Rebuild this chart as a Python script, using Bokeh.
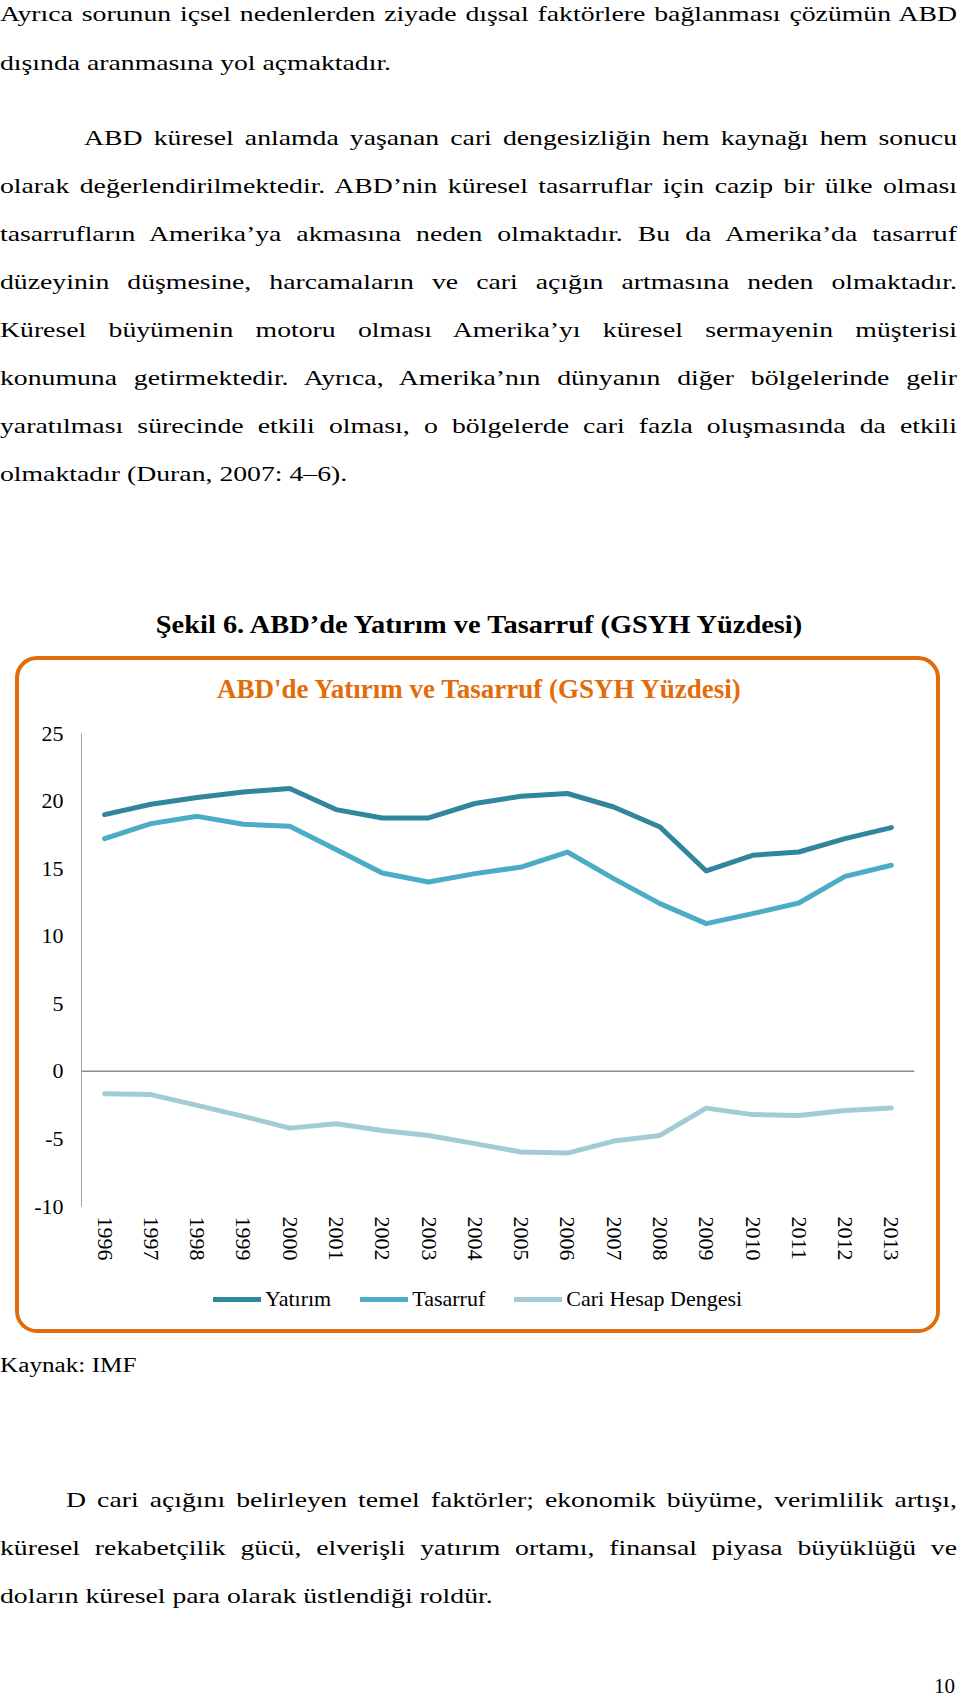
from bokeh.plotting import figure
from bokeh.models import (ColumnDataSource, FactorRange, Range1d, FixedTicker,
                          Span, Legend, Div)
from bokeh.layouts import column
from bokeh.embed import file_html
from bokeh.resources import INLINE

# ---------------- data ----------------
years = ["1996", "1997", "1998", "1999", "2000", "2001", "2002", "2003", "2004",
         "2005", "2006", "2007", "2008", "2009", "2010", "2011", "2012", "2013"]
yatirim = [19.0, 19.76, 20.26, 20.67, 20.93, 19.37, 18.75, 18.75, 19.82,
           20.36, 20.56, 19.56, 18.08, 14.83, 15.99, 16.23, 17.22, 18.04]
tasarruf = [17.22, 18.33, 18.87, 18.28, 18.13, 16.41, 14.68, 14.01, 14.63,
            15.12, 16.23, 14.26, 12.41, 10.93, 11.67, 12.46, 14.43, 15.25]
cari = [-1.65, -1.72, -2.52, -3.33, -4.2, -3.87, -4.37, -4.74, -5.35,
        -5.97, -6.05, -5.16, -4.74, -2.72, -3.2, -3.26, -2.89, -2.72]
series_names = ["Yatırım", "Tasarruf", "Cari Hesap Dengesi"]
y_ticks = [-10, -5, 0, 5, 10, 15, 20, 25]
y_tick_labels = ["-10", "-5", "0", "5", "10", "15", "20", "25"]

chart_title = "ABD'de Yatırım ve Tasarruf (GSYH Yüzdesi)"
figure_caption = "Şekil 6. ABD’de Yatırım ve Tasarruf (GSYH Yüzdesi)"
source_note = "Kaynak: IMF"
para1 = [
    ("Ayrıca sorunun içsel nedenlerden ziyade dışsal faktörlere bağlanması çözümün ABD", True, 0),
    ("dışında aranmasına yol açmaktadır.", False, 0),
]
para2 = [
    ("ABD küresel anlamda yaşanan cari dengesizliğin hem kaynağı hem sonucu", True, 84),
    ("olarak değerlendirilmektedir. ABD’nin küresel tasarruflar için cazip bir ülke olması", True, 0),
    ("tasarrufların Amerika’ya akmasına neden olmaktadır. Bu da Amerika’da tasarruf", True, 0),
    ("düzeyinin düşmesine, harcamaların ve cari açığın artmasına neden olmaktadır.", True, 0),
    ("Küresel büyümenin motoru olması Amerika’yı küresel sermayenin müşterisi", True, 0),
    ("konumuna getirmektedir. Ayrıca, Amerika’nın dünyanın diğer bölgelerinde gelir", True, 0),
    ("yaratılması sürecinde etkili olması, o bölgelerde cari fazla oluşmasında da etkili", True, 0),
    ("olmaktadır (Duran, 2007: 4–6).", False, 0),
]
para3 = [
    ("D cari açığını belirleyen temel faktörler; ekonomik büyüme, verimlilik artışı,", True, 66),
    ("küresel rekabetçilik gücü, elverişli yatırım ortamı, finansal piyasa büyüklüğü ve", True, 0),
    ("doların küresel para olarak üstlendiği roldür.", False, 0),
]
page_number = "10"

FONT = "'Liberation Serif', 'Times New Roman', serif"
SX = 1.26
ORANGE = "#E36C0A"


def text_line(text, top, left, justify, fs=22, sx=SX, right=957):
    w = (right - left) / sx
    ta = "justify" if justify else "left"
    return (f'<div style="position:absolute;top:{top:.1f}px;left:{left}px;width:{w:.1f}px;'
            f'font-size:{fs}px;line-height:{fs}px;text-align:{ta};'
            f'text-align-last:{ta};transform:scaleX({sx});transform-origin:0 0;">{text}</div>')


# ---------------- top text block (page y 0 .. 656) ----------------
asc22 = 18.4
parts = []
for (t, j, ind), b in zip(para1, [21, 70]):
    parts.append(text_line(t, b - asc22, ind, j))
for i, (t, j, ind) in enumerate(para2):
    b = 145 + 48.1 * i
    parts.append(text_line(t, b - asc22, ind, j))
cap_w = 800
parts.append(
    f'<div style="position:absolute;top:{633 - 20.9:.1f}px;left:{479 - cap_w / 2:.1f}px;'
    f'width:{cap_w}px;font-size:25px;line-height:25px;font-weight:bold;text-align:center;'
    f'transform:scaleX(1.136);transform-origin:50% 0;">{figure_caption}</div>')
top_html = (f'<div style="position:relative;width:960px;height:656px;font-family:{FONT};color:#000;">'
            + "".join(parts) + "</div>")
top_div = Div(text=top_html, width=960, height=656, margin=0)

# ---------------- chart box (outer page x 15..940, y 656..1333) ----------------
title_html = (f'<div style="position:relative;width:917px;height:50px;font-family:{FONT};">'
              f'<div style="position:absolute;top:{699 - 660 - 22.6:.1f}px;left:{217 - 19}px;'
              f'white-space:nowrap;font-size:27px;line-height:27px;font-weight:bold;'
              f'color:{ORANGE};">{chart_title}</div></div>')
title_div = Div(text=title_html, width=917, height=50, margin=0)

src = ColumnDataSource(dict(year=years, yat=yatirim, tas=tasarruf, cari=cari))

p = figure(x_range=FactorRange(*years, range_padding=0), y_range=Range1d(-10, 25),
           frame_width=833, frame_height=473, output_backend="svg", toolbar_location=None,
           min_border_left=62, min_border_right=22, min_border_top=23, min_border_bottom=66,
           margin=0)
p.background_fill_color = "white"
p.border_fill_color = "white"
p.outline_line_color = None
p.xgrid.visible = False
p.ygrid.visible = False

colors = ["#31859C", "#4BACC6", "#A3CBD6"]
series = ["yat", "tas", "cari"]
renderers = []
for col, c in zip(series, colors):
    renderers.append(p.line("year", col, source=src, line_color=c, line_width=5,
                            line_join="round", line_cap="round"))

p.add_layout(Span(location=0, dimension="width", line_color="#8C8C8C", line_width=1.5))

xa = p.xaxis[0]
xa.axis_line_color = None
xa.major_tick_line_color = None
xa.minor_tick_line_color = None
xa.major_tick_out = 0
xa.major_tick_in = 0
xa.major_label_orientation = "vertical"
xa.major_label_standoff = 10
xa.major_label_text_font = "Liberation Serif"
xa.major_label_text_font_size = "22px"
xa.major_label_text_color = "#000000"

ya = p.yaxis[0]
ya.ticker = FixedTicker(ticks=y_ticks)
ya.major_label_overrides = {t: l for t, l in zip(y_ticks, y_tick_labels)}
ya.axis_line_color = "#A0A0A0"
ya.axis_line_width = 1
ya.major_tick_line_color = None
ya.minor_tick_line_color = None
ya.major_tick_out = 0
ya.major_tick_in = 0
ya.major_label_standoff = 18
ya.major_label_text_font = "Liberation Serif"
ya.major_label_text_font_size = "22px"
ya.major_label_text_color = "#000000"

# legend strip (separate small figure inside the same box)
pl = figure(width=917, height=57, x_range=Range1d(0, 1), y_range=Range1d(0, 1),
            x_axis_location=None, y_axis_location=None, toolbar_location=None,
            output_backend="svg", min_border=0, margin=0)
pl.outline_line_color = None
pl.background_fill_color = "white"
pl.border_fill_color = "white"
pl.grid.grid_line_color = None
pl.grid.visible = False
nan = float("nan")
leg_r = [pl.line(x=[nan, nan], y=[nan, nan], line_color=c, line_width=5, line_cap="round")
         for c in colors]
legend = Legend(items=[(n, [r]) for n, r in zip(series_names, leg_r)],
                orientation="horizontal", location=(132, 17))
legend.border_line_color = None
legend.background_fill_alpha = 0
legend.label_text_font = "Liberation Serif"
legend.label_text_font_size = "22px"
legend.label_text_color = "#000000"
legend.glyph_width = 48
legend.glyph_height = 24
legend.label_height = 24
legend.label_standoff = 4
legend.spacing = 29
legend.padding = 0
legend.margin = 0
pl.add_layout(legend, "center")

chart_box = column(title_div, p, pl, spacing=0, width=917, height=669, margin=(0, 0, 0, 15),
                   styles={"border": f"4px solid {ORANGE}", "border-radius": "22px",
                           "box-sizing": "content-box", "background-color": "white",
                           "overflow": "hidden"})

# ---------------- bottom text block (page y 1333 .. 1697) ----------------
B0 = 1333
bparts = []
bparts.append(text_line(source_note, 1372 - B0 - 16.75, 0, False, fs=20))
for i, (t, j, ind) in enumerate(para3):
    b = 1507 + 48.3 * i
    bparts.append(text_line(t, b - B0 - asc22, ind, j))
bparts.append(
    f'<div style="position:absolute;top:{1693 - B0 - 16.75:.1f}px;left:855px;width:100px;'
    f'font-size:20px;line-height:20px;text-align:right;transform:scaleX(1.05);'
    f'transform-origin:100% 0;">{page_number}</div>')
bottom_html = (f'<div style="position:relative;width:960px;height:364px;font-family:{FONT};color:#000;">'
               + "".join(bparts) + "</div>")
bottom_div = Div(text=bottom_html, width=960, height=364, margin=0)

layout = column(top_div, chart_box, bottom_div, spacing=0)

open("out.html", "w").write(file_html(layout, INLINE))
